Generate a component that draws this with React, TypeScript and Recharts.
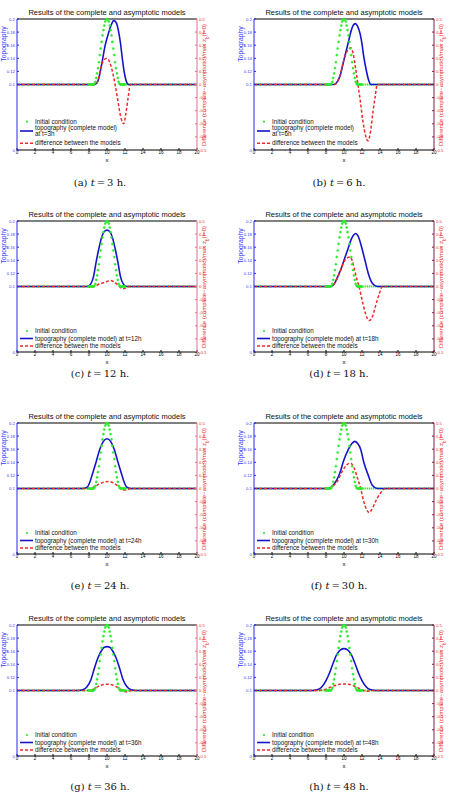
import { LineChart, Line, XAxis, YAxis, ReferenceLine } from 'recharts'

type Pt = [number, number]

const xTicks = [0, 2, 4, 6, 8, 10, 12, 14, 16, 18, 20]
const zTicks = [0, 0.1, 0.12, 0.14, 0.16, 0.18, 0.2]
const dTicks = [-0.5, -0.4, -0.3, -0.2, -0.1, 0, 0.1, 0.2, 0.3, 0.4, 0.5]

// initial condition (same in every panel)
const initialBump: Pt[] = [
  [8.0, 0.1], [8.1, 0.1], [8.2, 0.1], [8.3, 0.1], [8.4, 0.1], [8.5, 0.1],
  [8.6, 0.101], [8.7, 0.104], [8.8, 0.11], [8.9, 0.117], [9.0, 0.125],
  [9.1, 0.134], [9.2, 0.145], [9.3, 0.155], [9.4, 0.165], [9.5, 0.175],
  [9.6, 0.183], [9.7, 0.19], [9.8, 0.196], [9.9, 0.199], [10.0, 0.2],
  [10.1, 0.199], [10.2, 0.196], [10.3, 0.19], [10.4, 0.183], [10.5, 0.175],
  [10.6, 0.165], [10.7, 0.155], [10.8, 0.145], [10.9, 0.134], [11.0, 0.125],
  [11.1, 0.117], [11.2, 0.11], [11.3, 0.104], [11.4, 0.101], [11.5, 0.1],
  [11.6, 0.1], [11.7, 0.1], [11.8, 0.1], [11.9, 0.1], [12.0, 0.1],
]
const initialLeft: Pt[] = [[0, 0.1], [8.5, 0.1]]
const initialRight: Pt[] = [[11.5, 0.1], [20, 0.1]]

const topoA: Pt[] = [[0, 0.1], [8.6, 0.1], [9.0, 0.106], [9.4, 0.13], [9.8, 0.16], [10.2, 0.18], [10.5, 0.192], [10.75, 0.1975], [11.0, 0.195], [11.3, 0.18], [11.5, 0.163], [11.7, 0.14], [11.9, 0.12], [12.1, 0.107], [12.4, 0.1], [20, 0.1]]
const diffA: Pt[] = [[0, 0], [8.7, 0], [9.0, 0.03], [9.4, 0.15], [9.7, 0.19], [10.0, 0.2], [10.3, 0.17], [10.6, 0.1], [10.9, 0.0], [11.2, -0.12], [11.5, -0.24], [11.85, -0.3], [12.1, -0.22], [12.35, -0.1], [12.6, 0], [20, 0]]

const topoB: Pt[] = [[0, 0.1], [8.9, 0.1], [9.3, 0.105], [9.6, 0.115], [10.0, 0.138], [10.4, 0.16], [10.8, 0.182], [11.0, 0.19], [11.27, 0.193], [11.5, 0.189], [11.8, 0.177], [12.0, 0.162], [12.2, 0.142], [12.5, 0.12], [12.75, 0.106], [13.0, 0.1], [20, 0.1]]
const diffB: Pt[] = [[0, 0], [9.0, 0], [9.5, 0.06], [10.0, 0.19], [10.4, 0.26], [10.75, 0.28], [11.0, 0.24], [11.3, 0.12], [11.55, 0], [11.8, -0.12], [12.1, -0.28], [12.4, -0.39], [12.66, -0.43], [12.9, -0.38], [13.2, -0.22], [13.45, -0.1], [13.7, 0], [20, 0]]

const topoC: Pt[] = [[0, 0.1], [7.8, 0.1], [8.2, 0.104], [8.5, 0.115], [8.8, 0.138], [9.1, 0.158], [9.4, 0.175], [9.7, 0.184], [10, 0.186], [10.3, 0.184], [10.6, 0.175], [10.9, 0.158], [11.2, 0.138], [11.5, 0.115], [11.8, 0.104], [12.2, 0.1], [20, 0.1]]
const diffC: Pt[] = [[0, 0], [7.8, 0], [8.3, -0.005], [8.7, 0.005], [9.2, 0.02], [9.6, 0.028], [10.0, 0.038], [10.4, 0.046], [10.8, 0.035], [11.2, 0.012], [11.5, -0.008], [11.8, -0.018], [12.1, -0.01], [12.4, 0], [20, 0]]

const topoD: Pt[] = [[0, 0.1], [8.5, 0.1], [9.0, 0.106], [9.4, 0.118], [9.7, 0.128], [10.0, 0.14], [10.5, 0.16], [10.8, 0.172], [11.1, 0.179], [11.3, 0.181], [11.6, 0.176], [11.96, 0.16], [12.33, 0.14], [12.7, 0.12], [13.15, 0.105], [13.7, 0.1], [20, 0.1]]
const diffD: Pt[] = [[0, 0], [8.5, 0], [9.0, 0.03], [9.5, 0.1], [10.0, 0.19], [10.4, 0.22], [10.67, 0.226], [10.9, 0.2], [11.2, 0.12], [11.45, 0.05], [11.67, 0], [12.0, -0.1], [12.4, -0.21], [12.78, -0.26], [13.1, -0.24], [13.5, -0.15], [13.9, -0.06], [14.26, 0], [20, 0]]

const topoE: Pt[] = [[0, 0.1], [7.4, 0.1], [7.8, 0.102], [8.1, 0.11], [8.4, 0.123], [8.8, 0.141], [9.2, 0.16], [9.6, 0.172], [10, 0.176], [10.4, 0.172], [10.8, 0.16], [11.2, 0.141], [11.6, 0.123], [11.9, 0.11], [12.2, 0.102], [12.6, 0.1], [20, 0.1]]
const diffE: Pt[] = [[0, 0], [8.0, 0], [8.5, 0.01], [9.0, 0.03], [9.5, 0.045], [10.2, 0.054], [10.8, 0.04], [11.3, 0.015], [11.6, 0], [11.9, -0.012], [12.3, -0.008], [12.6, 0], [20, 0]]

const topoF: Pt[] = [[0, 0.1], [8.3, 0.1], [8.8, 0.105], [9.2, 0.113], [9.6, 0.126], [9.9, 0.14], [10.5, 0.16], [10.9, 0.169], [11.2, 0.172], [11.5, 0.169], [11.85, 0.16], [12.2, 0.14], [12.7, 0.12], [13.15, 0.105], [13.7, 0.1], [20, 0.1]]
const diffF: Pt[] = [[0, 0], [8.3, 0], [8.8, 0.02], [9.3, 0.06], [9.8, 0.13], [10.3, 0.18], [10.74, 0.194], [11.1, 0.16], [11.5, 0.08], [11.85, 0], [12.2, -0.1], [12.5, -0.16], [12.78, -0.184], [13.1, -0.16], [13.5, -0.1], [14.0, -0.04], [14.6, 0], [20, 0]]

const topoG: Pt[] = [[0, 0.1], [6.8, 0.1], [7.3, 0.101], [7.8, 0.106], [8.2, 0.116], [8.6, 0.134], [9.0, 0.15], [9.4, 0.161], [9.7, 0.166], [10, 0.167], [10.3, 0.166], [10.6, 0.161], [11.0, 0.15], [11.4, 0.134], [11.8, 0.116], [12.2, 0.106], [12.7, 0.101], [13.2, 0.1], [20, 0.1]]
const diffG: Pt[] = [[0, 0], [7.8, 0], [8.5, 0.01], [9.0, 0.03], [9.5, 0.044], [10, 0.048], [10.5, 0.044], [11.0, 0.03], [11.5, 0.01], [11.9, -0.005], [12.3, -0.01], [12.7, 0], [20, 0]]

const topoH: Pt[] = [[0, 0.1], [6.5, 0.1], [7.0, 0.101], [7.5, 0.105], [8.0, 0.115], [8.4, 0.127], [8.8, 0.142], [9.2, 0.155], [9.6, 0.162], [10, 0.164], [10.4, 0.162], [10.8, 0.155], [11.2, 0.142], [11.6, 0.127], [12.0, 0.115], [12.5, 0.105], [13.0, 0.101], [13.5, 0.1], [20, 0.1]]
const diffH: Pt[] = [[0, 0], [7.0, 0], [7.5, 0.003], [8.0, 0.01], [8.5, 0.025], [9.0, 0.038], [9.5, 0.047], [10, 0.05], [10.5, 0.047], [11, 0.038], [11.5, 0.022], [12.0, 0.005], [12.4, -0.005], [12.8, -0.004], [13.2, 0], [20, 0]]

const letters = ['a', 'b', 'c', 'd', 'e', 'f', 'g', 'h']
const hours = [3, 6, 12, 18, 24, 30, 36, 48]
const topos = [topoA, topoB, topoC, topoD, topoE, topoF, topoG, topoH]
const diffs = [diffA, diffB, diffC, diffD, diffE, diffF, diffG, diffH]

const rows = (pts: Pt[]) => pts.map(([x, v]) => ({ x, v }))

const GREEN = '#2de82d'
const BLUE = '#1515c8'
const RED = '#ee2a2a'
const FONT = '"Liberation Sans", Arial, sans-serif'

const plotTops = [19, 221, 423, 625]
const captionYs = [182, 373, 585, 786]
const chartLefts = [0, 237]
const captionXs = [100, 339]

function Panel({ i }: { i: number }) {
  const col = i % 2
  const row = Math.floor(i / 2)
  const left = chartLefts[col]
  const plotTop = plotTops[row]
  const top = plotTop - 19
  const plotLeft = left + 17
  const wrap = i < 2
  const rightColor = col === 0 ? '#e0708c' : '#8a1848'
  const abs = (x: number, y: number): React.CSSProperties => ({ position: 'absolute', left: x, top: y })

  const legendRows = wrap ? [102.7, 111.5, 124.3] : [110, 117.5, 125]

  return (
    <>
      <div style={{ position: 'absolute', left, top }}>
        <LineChart width={226} height={170} margin={{ top: 19, right: 17, bottom: 10, left: 5 }}>
          <XAxis
            type="number"
            dataKey="x"
            domain={[0, 20]}
            ticks={xTicks}
            interval={0}
            stroke="#000"
            tick={{ fontSize: 4.5, fill: '#000' }}
            tickSize={-2}
            tickMargin={3}
            height={10}
          />
          <YAxis
            yAxisId="z"
            orientation="left"
            domain={[0, 0.2]}
            ticks={zTicks}
            interval={0}
            width={12}
            stroke="#2727f0"
            tick={{ fontSize: 4.3, fill: '#3a3aff' }}
            tickSize={-2}
            tickMargin={4}
          />
          <YAxis
            yAxisId="d"
            orientation="right"
            domain={[-0.5, 0.5]}
            ticks={dTicks}
            interval={0}
            width={12}
            stroke={rightColor}
            tick={{ fontSize: 4.3, fill: RED }}
            tickSize={-2}
            tickMargin={4}
          />
          <ReferenceLine yAxisId="z" y={0.2} stroke="#000" strokeWidth={1} />
          <Line yAxisId="z" data={rows(initialLeft)} dataKey="v" stroke={GREEN} strokeWidth={2.2} strokeDasharray="1.2 0.7" dot={false} isAnimationActive={false} />
          <Line yAxisId="z" data={rows(initialRight)} dataKey="v" stroke={GREEN} strokeWidth={2.2} strokeDasharray="1.2 0.7" dot={false} isAnimationActive={false} />
          <Line yAxisId="z" data={rows(initialBump)} dataKey="v" stroke="none" dot={{ r: 1.1, fill: GREEN, stroke: GREEN, strokeWidth: 0.4 }} isAnimationActive={false} />
          <Line yAxisId="z" type="monotone" data={rows(topos[i])} dataKey="v" stroke={BLUE} strokeWidth={1.6} dot={false} isAnimationActive={false} />
          <Line yAxisId="d" type="monotone" data={rows(diffs[i])} dataKey="v" stroke={RED} strokeWidth={1.5} strokeDasharray="3 2" dot={false} isAnimationActive={false} />
        </LineChart>
      </div>

      {/* title */}
      <div style={{ ...abs(plotLeft - 10, plotTop - 11), width: 200, textAlign: 'center', fontSize: 7.5, lineHeight: '9px', color: '#111', whiteSpace: 'nowrap' }}>
        Results of the complete and asymptotic models
      </div>

      {/* left axis title */}
      <div style={{ ...abs(left + 3.5, plotTop + 25), transform: 'translate(-50%, -50%) rotate(-90deg)', fontSize: 6.8, color: '#3535ff', whiteSpace: 'nowrap', lineHeight: '8px' }}>
        Topography
      </div>

      {/* right axis title */}
      <div style={{ ...abs(left + 206, plotTop + 65.5), transform: 'translate(-50%, -50%) rotate(-90deg)', fontSize: 6, color: RED, whiteSpace: 'nowrap', lineHeight: '8px' }}>
        Difference (complete−asymptotic)/max z<sub style={{ fontSize: 4.5 }}>b</sub>(t=0)
      </div>

      {/* x label */}
      <div style={{ ...abs(plotLeft + 90, plotTop + 141), transform: 'translate(-50%, -50%)', fontSize: 6, lineHeight: '7px' }}>x</div>

      {/* legend */}
      <div style={{ ...abs(plotLeft, plotTop), fontSize: 6.3, color: '#111', whiteSpace: 'nowrap' }}>
        <svg style={{ position: 'absolute', left: 0, top: 0, overflow: 'visible' }} width={20} height={140}>
          <circle cx={10} cy={legendRows[0]} r={1.1} fill={GREEN} />
          <line x1={3} x2={16} y1={legendRows[1] + (wrap ? 0.5 : 0)} y2={legendRows[1] + (wrap ? 0.5 : 0)} stroke={BLUE} strokeWidth={1.6} />
          <line x1={3} x2={16} y1={legendRows[2]} y2={legendRows[2]} stroke={RED} strokeWidth={1.5} strokeDasharray="3 2" />
        </svg>
        <div style={{ position: 'absolute', left: 18, top: legendRows[0] - 3, lineHeight: '6px' }}>Initial condition</div>
        {wrap ? (
          <div style={{ position: 'absolute', left: 18, top: legendRows[1] - 6, lineHeight: '6px' }}>
            topography (complete model)
            <br />
            at t={hours[i]}h
          </div>
        ) : (
          <div style={{ position: 'absolute', left: 18, top: legendRows[1] - 3, lineHeight: '6px' }}>
            topography (complete model) at t={hours[i]}h
          </div>
        )}
        <div style={{ position: 'absolute', left: 18, top: legendRows[2] - 3, lineHeight: '6px' }}>difference between the models</div>
      </div>

      {/* caption */}
      <div style={{ ...abs(captionXs[col], captionYs[row]), transform: 'translate(-50%, -50%)', fontFamily: '"DejaVu Serif", serif', fontSize: 10, whiteSpace: 'nowrap', color: '#111' }}>
        ({letters[i]}) <i>t</i>&thinsp;=&thinsp;{hours[i]} h.
      </div>
    </>
  )
}

export default function App() {
  return (
    <div style={{ position: 'absolute', left: 0, top: 0, width: 453, height: 792, background: '#fff', fontFamily: FONT, overflow: 'hidden' }}>
      {letters.map((_, i) => (
        <Panel key={i} i={i} />
      ))}
    </div>
  )
}
